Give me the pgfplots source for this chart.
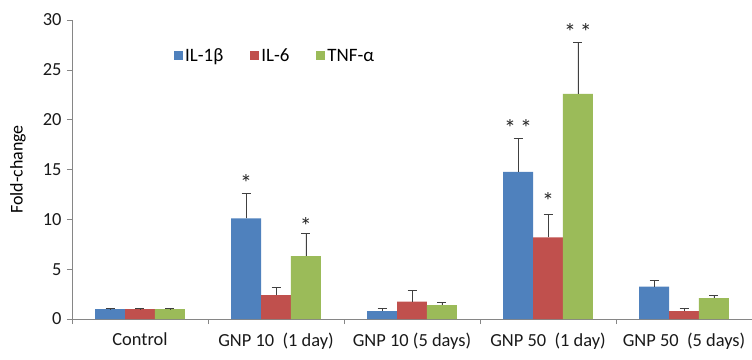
\documentclass[border=0pt]{standalone}
\usepackage{fontspec}
\setmainfont{Carlito}
\usepackage{pgfplots}
\pgfplotsset{compat=1.18}
\definecolor{cblue}{HTML}{4F81BD}
\definecolor{cred}{HTML}{C0504D}
\definecolor{cgreen}{HTML}{9BBB59}
\definecolor{axgray}{HTML}{868686}
\begin{document}
\begin{tikzpicture}
\begin{axis}[
  scale only axis, width=680bp, height=299bp,
  xmin=-0.5, xmax=4.5, ymin=0, ymax=30,
  axis x line*=bottom, axis y line*=left,
  axis line style={axgray},
  ytick={0,5,...,30},
  xtick={0,...,4},
  xticklabels={Control, GNP 10\ \ (1 day), GNP 10 (5 days), GNP 50\ \ (1 day), GNP 50\ \ (5 days)},
  major x tick style={draw=none},
  minor xtick={-0.5,0.5,...,4.5},
  tick align=outside, tick style={axgray, thin},
  major tick length=5bp, minor tick length=5bp,
  tick label style={font=\fontsize{18.5}{22}\selectfont, text=black!90},
  x tick label style={yshift=-5bp},
  y tick label style={xshift=-2bp},
  /pgf/number format/assume math mode=true,
  ylabel={Fold-change},
  every axis y label/.style={at={(axis description cs:-0.0794,0.5)}, rotate=90, anchor=center, font=\fontsize{18}{22}\selectfont},
  legend image code/.code={\fill[#1] (0bp,-4.5bp) rectangle (9bp,4.5bp);},
  legend style={at={(0.1456,0.88)}, anchor=west, draw=none, fill=none, font=\fontsize{19}{22}\selectfont, legend columns=3,
    /tikz/every even column/.append style={column sep=25bp}},
  error bars/error bar style={black!75, line width=0.8pt},
  error bars/error mark options={rotate=90, mark size=4.5bp, black!75, line width=0.8pt},
]
\addplot[ybar, bar width=0.22, bar shift=0, fill=cblue, draw=none,
  error bars/.cd, y dir=plus, y explicit]
  coordinates {(-0.22,1.0) +- (0,0.04) (0.78,10.1) +- (0,2.5) (1.78,0.8) +- (0,0.22) (2.78,14.75) +- (0,3.35) (3.78,3.25) +- (0,0.65)};
\addlegendentry{IL-1β}
\addplot[ybar, bar width=0.22, bar shift=0, fill=cred, draw=none,
  error bars/.cd, y dir=plus, y explicit]
  coordinates {(0,1.0) +- (0,0.04) (1,2.4) +- (0,0.8) (2,1.75) +- (0,1.1) (3,8.2) +- (0,2.3) (4,0.8) +- (0,0.23)};
\addlegendentry{IL-6}
\addplot[ybar, bar width=0.22, bar shift=0, fill=cgreen, draw=none,
  error bars/.cd, y dir=plus, y explicit]
  coordinates {(0.22,1.0) +- (0,0.04) (1.22,6.3) +- (0,2.3) (2.22,1.4) +- (0,0.25) (3.22,22.6) +- (0,5.15) (4.22,2.1) +- (0,0.28)};
\addlegendentry{TNF-α}
\addplot[only marks, mark=none, forget plot, nodes near coords, point meta=explicit symbolic,
  every node near coord/.append style={anchor=center, yshift=-4bp, font=\fontsize{24}{26}\selectfont, text=black!85}]
  coordinates {(0.78,14.0) [*] (1.22,9.7) [*] (2.78,19.6) [*\,*] (3,12.2) [*] (3.22,29.2) [*\,*]};
\end{axis}
\pgfresetboundingbox
\useasboundingbox ([xshift=-72bp,yshift=-41bp]current axis.south west) rectangle ([yshift=20bp]current axis.north east);
\end{tikzpicture}
\end{document}
